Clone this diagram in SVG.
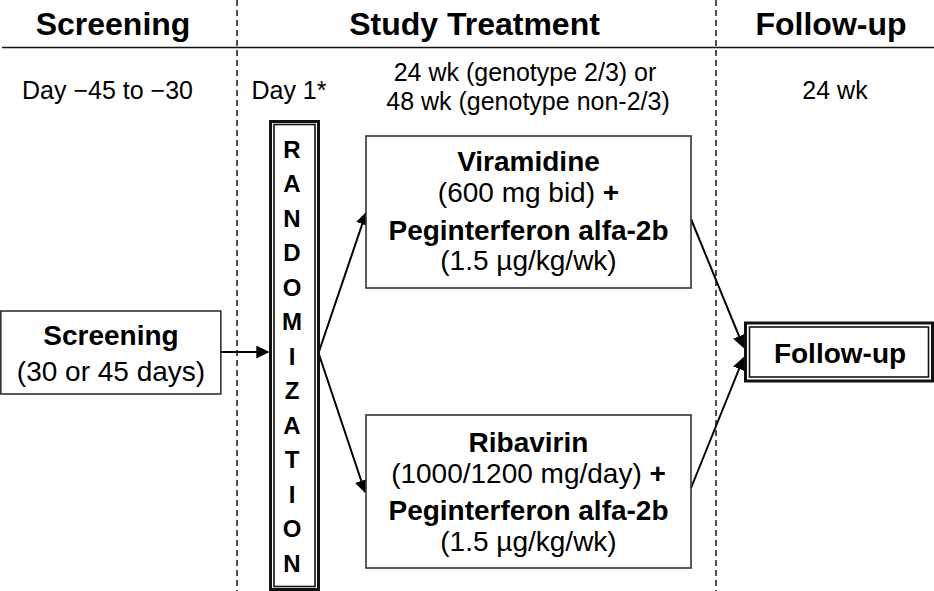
<svg xmlns="http://www.w3.org/2000/svg" width="934" height="591" viewBox="0 0 934 591">
<style>
text{font-family:"Liberation Sans",Arial,sans-serif;fill:#000;text-anchor:middle}
.h{font-size:32px;font-weight:bold}
.s{font-size:25px}
.b{font-size:28px;font-weight:bold}
.r{font-size:28px}
.box{fill:#fff;stroke:#333;stroke-width:1.6}
.dash{stroke:#222;stroke-width:1.6;stroke-dasharray:6,4;fill:none}
.conn{stroke:#000;stroke-width:2;fill:none;marker-end:url(#ah)}
.lt{font-size:24px;font-weight:bold}
</style>
<defs>
<marker id="ah" viewBox="0 0 10 10" refX="9" refY="5" markerWidth="13" markerHeight="13" markerUnits="userSpaceOnUse" orient="auto">
<path d="M0,0 L10,5 L0,10 z" fill="#000"/>
</marker>
</defs>
<rect x="0" y="0" width="934" height="591" fill="#fff"/>
<g id="headers">
<line x1="2" y1="47.5" x2="934" y2="47.5" stroke="#111" stroke-width="1.6"/>
<line class="dash" x1="237" y1="0" x2="237" y2="591"/>
<line class="dash" x1="716" y1="0" x2="716" y2="591"/>
<text class="h" x="113" y="35">Screening</text>
<text class="h" x="474.5" y="35">Study Treatment</text>
<text class="h" x="831" y="35">Follow-up</text>
<text class="s" x="107.5" y="99">Day −45 to −30</text>
<text class="s" x="289" y="99">Day 1*</text>
<text class="s" x="525" y="81">24 wk (genotype 2/3) or</text>
<text class="s" x="528" y="110">48 wk (genotype non-2/3)</text>
<text class="s" x="835" y="99">24 wk</text>
</g>
<g id="connectors">
<line class="conn" x1="221" y1="352" x2="268" y2="352"/>
<line class="conn" x1="318.5" y1="353" x2="366" y2="213"/>
<line class="conn" x1="318.5" y1="353" x2="365" y2="492"/>
<line class="conn" x1="691" y1="219" x2="743.5" y2="347"/>
<line class="conn" x1="691" y1="488" x2="743.5" y2="358"/>
</g>
<g id="screening">
<rect class="box" x="0.8" y="311" width="220" height="83"/>
<text class="b" x="111" y="345">Screening</text>
<text class="r" x="111" y="381">(30 or 45 days)</text>
</g>
<g id="randomization">
<rect x="270.5" y="121.5" width="48" height="468" fill="#fff" stroke="#111" stroke-width="3"/>
<rect x="274" y="124.5" width="41" height="462" fill="none" stroke="#111" stroke-width="1.6"/>
<text class="lt" x="292" y="157.5">R</text>
<text class="lt" x="292" y="192">A</text>
<text class="lt" x="292" y="226.5">N</text>
<text class="lt" x="292" y="261">D</text>
<text class="lt" x="292" y="295.5">O</text>
<text class="lt" x="292" y="330">M</text>
<text class="lt" x="292" y="364.5">I</text>
<text class="lt" x="292" y="399">Z</text>
<text class="lt" x="292" y="433.5">A</text>
<text class="lt" x="292" y="468">T</text>
<text class="lt" x="292" y="502.5">I</text>
<text class="lt" x="292" y="537">O</text>
<text class="lt" x="292" y="571.5">N</text>
</g>
<g id="viramidine">
<rect class="box" x="366" y="136" width="325" height="152"/>
<text class="b" x="528.5" y="171">Viramidine</text>
<text class="r" x="528.5" y="202">(600 mg bid) <tspan font-weight="bold">+</tspan></text>
<text class="b" x="528.5" y="240">Peginterferon alfa-2b</text>
<text class="r" x="528.5" y="270">(1.5 µg/kg/wk)</text>
</g>
<g id="ribavirin">
<rect class="box" x="366" y="415" width="325" height="153"/>
<text class="b" x="528.5" y="451.5">Ribavirin</text>
<text class="r" x="528.5" y="483">(1000/1200 mg/day) <tspan font-weight="bold">+</tspan></text>
<text class="b" x="528.5" y="520">Peginterferon alfa-2b</text>
<text class="r" x="528.5" y="550.5">(1.5 µg/kg/wk)</text>
</g>
<g id="followup">
<rect x="745.5" y="323" width="187" height="58" fill="#fff" stroke="#111" stroke-width="3"/>
<rect x="749.5" y="327" width="179" height="50" fill="none" stroke="#111" stroke-width="1.6"/>
<text class="b" x="840" y="363">Follow-up</text>
</g>
</svg>
